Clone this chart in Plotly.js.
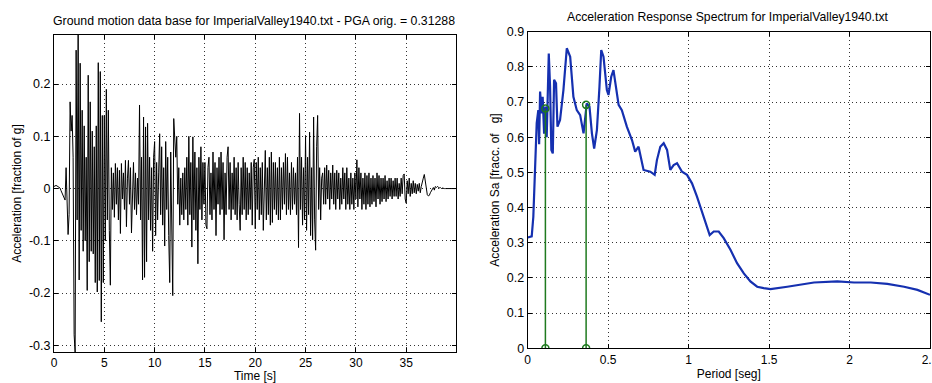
<!DOCTYPE html>
<html>
<head>
<meta charset="utf-8">
<script src="https://cdn.plot.ly/plotly-3.0.1.min.js"></script>
<style>html,body{margin:0;padding:0;background:#fff;}#chart{width:932px;height:383px;}</style>
</head>
<body>
<div id="chart"></div>
<script>
// ---- Data: ground motion record (acceleration, fraction of g), sampled every 0.1 s ----
const timeStart = 0;
const timeStep = 0.1;
const accel = [
 0.004, 0.005, 0.006, 0.005, 0.004, 0.003, 0.001, -0.004, -0.008, -0.012,
 -0.018, -0.022, 0.040, -0.030, -0.088, -0.050, 0.166, 0.110, 0.140, 0.060,
 -0.280, -0.313, 0.265, -0.060, 0.294, -0.175, 0.240, -0.080, 0.150, -0.120,
 0.120, -0.100, 0.060, -0.195, 0.217, -0.140, 0.166, -0.120, 0.110, -0.125,
 0.080, -0.180, 0.120, -0.198, 0.241, -0.176, 0.224, -0.255, 0.140, -0.180,
 0.140, -0.100, 0.190, -0.060, 0.150, -0.080, -0.185, 0.040, -0.040, 0.030,
 -0.055, 0.048, -0.030, 0.040, -0.060, 0.035, -0.086, 0.048, -0.020, 0.030,
 -0.040, 0.054, -0.073, 0.020, 0.054, -0.030, 0.040, -0.085, 0.020, 0.050,
 -0.040, 0.030, -0.050, 0.020, -0.030, 0.160, -0.060, 0.060, -0.175, 0.137,
 -0.170, 0.118, -0.140, 0.125, -0.060, 0.060, -0.080, 0.040, -0.120, 0.060,
 0.090, -0.090, 0.050, -0.060, 0.030, 0.105, -0.050, 0.080, -0.070, 0.040,
 -0.110, 0.090, -0.040, 0.060, -0.090, -0.180, 0.070, -0.060, -0.205, 0.134,
 0.090, 0.060, 0.100, -0.030, 0.040, -0.070, 0.020, -0.050, 0.030, -0.060,
 0.040, -0.040, 0.060, -0.070, 0.100, -0.050, 0.050, -0.112, 0.099, -0.060,
 0.070, -0.080, 0.040, -0.144, 0.060, -0.040, 0.080, -0.060, 0.050, -0.030,
 0.050, -0.070, -0.077, 0.040, 0.060, -0.050, 0.030, -0.060, 0.070, -0.040,
 0.050, -0.090, 0.040, -0.030, 0.060, -0.050, 0.070, -0.040, 0.050, -0.098,
 0.030, -0.050, 0.060, 0.080, -0.040, 0.050, -0.060, 0.030, -0.040, 0.060,
 -0.050, 0.040, -0.060, 0.050, -0.030, -0.080, 0.040, -0.050, 0.060, -0.040,
 0.050, -0.060, 0.040, -0.050, 0.030, -0.040, 0.050, -0.070, 0.040, 0.056,
 -0.077, 0.050, -0.040, 0.060, -0.060, 0.040, -0.050, 0.050, -0.080, 0.030,
 0.073, -0.060, 0.040, -0.050, 0.060, -0.070, 0.070, -0.065, 0.050, -0.040,
 0.050, -0.050, 0.040, -0.060, 0.060, -0.060, 0.040, -0.040, 0.050, -0.030,
 0.067, -0.050, 0.060, -0.040, 0.030, -0.050, 0.050, -0.040, 0.040, -0.030,
 0.030, -0.050, 0.060, -0.113, 0.144, -0.040, 0.060, -0.070, 0.040, -0.060,
 0.100, -0.080, 0.060, -0.050, 0.108, -0.090, 0.040, -0.098, 0.137, -0.060,
 -0.118, 0.080, 0.140, -0.040, 0.040, -0.060, 0.020, 0.030, -0.030, 0.040,
 -0.030, 0.045, -0.020, 0.035, -0.040, 0.030, -0.020, 0.045, -0.030, 0.030,
 -0.040, 0.035, -0.020, 0.030, -0.040, 0.020, -0.030, 0.040, -0.020, 0.030,
 -0.040, 0.040, -0.030, 0.020, -0.040, 0.030, -0.030, 0.020, -0.040, 0.030,
 -0.020, 0.055, -0.035, 0.040, -0.020, 0.030, -0.040, 0.020, -0.030, 0.030,
 -0.040, 0.025, -0.030, 0.030, -0.035, 0.020, -0.030, 0.025, -0.025, 0.020,
 -0.035, 0.030, -0.020, 0.025, -0.030, 0.020, -0.025, 0.020, -0.020, 0.025,
 -0.025, 0.015, -0.020, 0.020, -0.015, 0.020, -0.020, 0.015, -0.015, 0.020,
 -0.015, 0.020, -0.020, 0.010, -0.015, 0.020, -0.010, 0.025, 0.028, -0.020,
 -0.028, 0.015, -0.010, 0.020, -0.015, 0.010, -0.010, 0.015, -0.008, 0.010,
 -0.010, 0.008, -0.005, 0.010, -0.008, 0.004, 0.010, 0.020, 0.027, 0.010,
 -0.005, -0.012, -0.014, -0.013, -0.008, -0.004, 0.000, 0.002, -0.003, 0.004,
 0.002, 0.004, 0.003, 0.001, 0.002, 0.000, 0.001, 0.000, 0.000, 0.000,
 0.000, 0.000, 0.000, 0.000, 0.000, 0.000, 0.000, 0.000, 0.000, 0.000
];
const pgaOrig = 0.31288;
const timeMax = 39.95;
const accelMax = 0.294;

// ---- Data: acceleration response spectrum ----
const periods = [0.000, 0.025, 0.035, 0.042, 0.050, 0.056, 0.066, 0.071, 0.077, 0.087,
 0.093, 0.102, 0.110, 0.118, 0.131, 0.139, 0.147, 0.156, 0.164, 0.176,
 0.185, 0.201, 0.222, 0.243, 0.264, 0.284, 0.305, 0.326, 0.347, 0.367,
 0.384, 0.399, 0.413, 0.430, 0.446, 0.457, 0.471, 0.492, 0.502, 0.519,
 0.533, 0.548, 0.565, 0.585, 0.616, 0.648, 0.668, 0.689, 0.699, 0.720,
 0.762, 0.789, 0.803, 0.824, 0.845, 0.866, 0.886, 0.907, 0.928, 0.959,
 0.990, 1.021, 1.052, 1.094, 1.131, 1.156, 1.187, 1.218, 1.260, 1.301,
 1.343, 1.384, 1.426, 1.467, 1.509, 1.613, 1.716, 1.779, 1.924, 2.028,
 2.132, 2.235, 2.339, 2.422, 2.500];
const spectralAccel = [0.315, 0.318, 0.374, 0.460, 0.545, 0.640, 0.677, 0.580, 0.730, 0.668,
 0.715, 0.610, 0.687, 0.600, 0.838, 0.744, 0.564, 0.554, 0.763, 0.753,
 0.630, 0.649, 0.734, 0.853, 0.829, 0.715, 0.677, 0.663, 0.611, 0.696,
 0.687, 0.611, 0.568, 0.620, 0.744, 0.848, 0.829, 0.734, 0.720, 0.772,
 0.791, 0.744, 0.692, 0.677, 0.630, 0.592, 0.559, 0.573, 0.554, 0.507,
 0.502, 0.493, 0.535, 0.573, 0.583, 0.564, 0.507, 0.521, 0.526, 0.502,
 0.493, 0.469, 0.431, 0.374, 0.322, 0.332, 0.332, 0.313, 0.280, 0.242,
 0.213, 0.190, 0.175, 0.171, 0.168, 0.175, 0.183, 0.187, 0.190, 0.187,
 0.187, 0.183, 0.175, 0.166, 0.152];
const stemPeriods = [0.110, 0.363];
const stemSa = [0.682, 0.692];

// ---- Tick labels ----
const timeTicks = [0, 5, 10, 15, 20, 25, 30, 35];
const accelTickVals = [-0.3, -0.2, -0.1, 0, 0.1, 0.2];
const accelTickText = ['-0.3', '-0.2', '-0.1', '0', '0.1', '0.2'];
const periodTickVals = [0, 0.5, 1, 1.5, 2, 2.5];
const periodTickText = ['0', '0.5', '1', '1.5', '2', '2.5'];
const saTickVals = [0, 0.1, 0.2, 0.3, 0.4, 0.5, 0.6, 0.7, 0.8, 0.9];
const saTickText = ['0', '0.1', '0.2', '0.3', '0.4', '0.5', '0.6', '0.7', '0.8', '0.9'];

const FONT = 'Liberation Sans, Arial, Helvetica, sans-serif';

const traces = [
  {
    type: 'scatter', mode: 'lines', x0: timeStart, dx: timeStep, y: accel,
    xaxis: 'x', yaxis: 'y', line: {color: '#000000', width: 1}, hoverinfo: 'skip'
  },
  {
    type: 'scatter', mode: 'lines', x: periods, y: spectralAccel,
    xaxis: 'x2', yaxis: 'y2', line: {color: '#1530b0', width: 2.2}, hoverinfo: 'skip'
  }
];
stemPeriods.forEach(function (p, i) {
  traces.push({
    type: 'scatter', mode: 'lines+markers', x: [p, p], y: [0, stemSa[i]],
    xaxis: 'x2', yaxis: 'y2', line: {color: '#1f7a1f', width: 1.5},
    marker: {symbol: 'circle-open', size: 7, color: '#1f7a1f', line: {width: 1.5}},
    hoverinfo: 'skip'
  });
});

const axisCommon = {
  showline: true, linecolor: '#000', linewidth: 1, mirror: 'ticks',
  ticks: 'inside', ticklen: 4, tickcolor: '#000',
  showgrid: true, gridcolor: '#333', griddash: '1px,3px', gridwidth: 1,
  zeroline: false, tickfont: {family: FONT, size: 12.5, color: '#000'},
  ticklabeloverflow: 'allow'
};

const layout = {
  width: 932, height: 383,
  margin: {l: 0, r: 0, t: 0, b: 0},
  paper_bgcolor: '#fff', plot_bgcolor: '#fff',
  showlegend: false,
  font: {family: FONT, size: 12, color: '#000'},
  xaxis: Object.assign({}, axisCommon, {
    domain: [54 / 932, 456 / 932], range: [0, timeMax], tickvals: timeTicks,
    tickfont: {family: FONT, size: 12, color: '#000'},
    title: {text: 'Time [s]', font: {family: FONT, size: 12}, standoff: 3}
  }),
  yaxis: Object.assign({}, axisCommon, {
    domain: [31 / 383, 348 / 383], range: [-pgaOrig, accelMax],
    tickvals: accelTickVals, ticktext: accelTickText,
    title: {text: 'Acceleration [fraction of g]', font: {family: FONT, size: 12}, standoff: 4}
  }),
  xaxis2: Object.assign({}, axisCommon, {
    domain: [527.7 / 932, 930 / 932], range: [0, 2.5],
    tickvals: periodTickVals, ticktext: periodTickText, anchor: 'y2',
    tickfont: {family: FONT, size: 12, color: '#000'},
    title: {text: 'Period [seg]', font: {family: FONT, size: 12}, standoff: 3}
  }),
  yaxis2: Object.assign({}, axisCommon, {
    domain: [34.7 / 383, 351.3 / 383], range: [0, 0.9],
    tickvals: saTickVals, ticktext: saTickText, anchor: 'x2',
    title: {text: 'Acceleration Sa [fracc. of &nbsp; g]', font: {family: FONT, size: 12}, standoff: 4}
  }),
  annotations: [
    {text: 'Ground motion data base for ImperialValley1940.txt - PGA orig. = ' + pgaOrig,
     xref: 'paper', yref: 'paper', x: 254 / 932, y: (383 - 21) / 383,
     xanchor: 'center', yanchor: 'middle', showarrow: false, font: {family: FONT, size: 12.3}},
    {text: 'Acceleration Response Spectrum for ImperialValley1940.txt',
     xref: 'paper', yref: 'paper', x: 727 / 932, y: (383 - 17) / 383,
     xanchor: 'center', yanchor: 'middle', showarrow: false, font: {family: FONT, size: 12.2}}
  ]
};

Plotly.newPlot('chart', traces, layout, {staticPlot: true, displayModeBar: false});
</script>
</body>
</html>
